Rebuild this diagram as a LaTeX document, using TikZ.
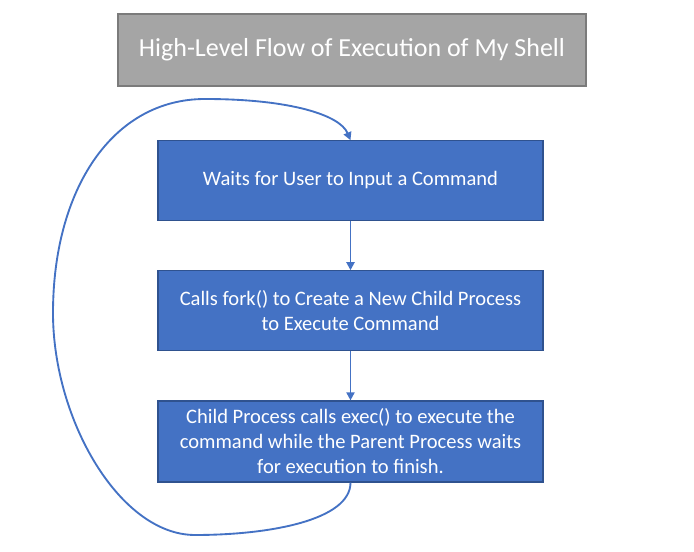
\documentclass[tikz,border=0pt]{standalone}
\usepackage{fontspec}
\setmainfont{Carlito}
\usetikzlibrary{arrows.meta}
\definecolor{boxblue}{HTML}{4472C4}
\definecolor{boxedge}{HTML}{2F528F}
\definecolor{titlegray}{HTML}{A5A5A5}
\definecolor{titleedge}{HTML}{7B7B7B}
\tikzset{
  titlebox/.style={draw=titleedge, fill=titlegray, line width=0.9pt, text=white,
    minimum width=351pt, minimum height=54pt, inner sep=0pt, font=\fontsize{19.5}{23}\selectfont},
  stepbox/.style={draw=boxedge, fill=boxblue, line width=0.9pt, text=white,
    minimum width=288.75pt, minimum height=59.5pt, inner sep=0pt, align=center,
    font=\fontsize{15.4}{18.75}\selectfont},
  flow/.style={draw=boxblue, line width=1.4pt, -{Triangle[length=6pt,width=6pt]}},
}
\begin{document}
\begin{tikzpicture}[x=0.75pt,y=-0.75pt]
\useasboundingbox (0,0) rectangle (694,552);
\node[titlebox] (title) at (352,50) {High-Level Flow of Execution of My Shell};
\node[stepbox] (wait) at (350.5,180.5) {Waits for User to Input a Command};
\node[stepbox] (fork) at (350.5,310.5) {Calls fork() to Create a New Child Process\\to Execute Command};
\node[stepbox, minimum height=60.75pt] (exec) at (350.5,441.5) {Child Process calls exec() to execute the\\command while the Parent Process waits\\for execution to finish.};
\draw[flow] (wait) -- (fork);
\draw[flow] (fork) -- (exec);
\draw[flow] (exec.south) .. controls (350.5,520) and (270,535) .. (195,535)
  .. controls (120,535) and (53,420) .. (53,313)
  .. controls (53,190) and (112,99) .. (205,99)
  .. controls (290,99) and (340,115) .. (wait.north);
\end{tikzpicture}
\end{document}
